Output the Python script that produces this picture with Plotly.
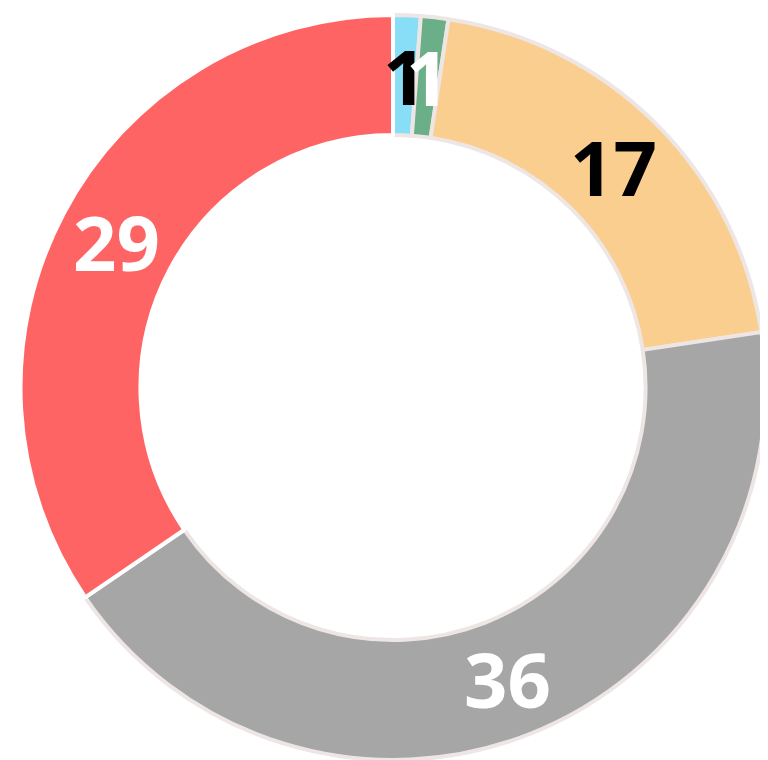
import math
import plotly.graph_objects as go

labels = ["A", "B", "C", "D", "E"]
values = [1, 1, 17, 36, 29]
colors = ["#88DEF6", "#6AAF87", "#FACE8F", "#A6A6A6", "#FF6464"]
text_colors = ["#000000", "#FFFFFF", "#000000", "#FFFFFF", "#FFFFFF"]
line_colors = ["#EEE6E4", "#EEE6E4", "#EEE6E4", "#EEE6E4", "#FFFFFF"]

W, H = 760, 752
ML, MR, MT, MB = 12, 2, 7, 0
HOLE = 0.678

fig = go.Figure(go.Pie(
    labels=labels,
    values=values,
    hole=HOLE,
    sort=False,
    direction="clockwise",
    rotation=0,
    marker=dict(colors=colors, line=dict(color=line_colors, width=4)),
    textinfo="none",
    hoverinfo="label+value",
    showlegend=False,
    domain=dict(x=[0, 1], y=[0, 1]),
))

# value labels placed horizontally at the middle of the ring
pw, ph = W - ML - MR, H - MT - MB
R = min(pw, ph) / 2
rmid = R * (1 + HOLE) / 2
total = sum(values)
cum = 0
for v, tc in zip(values, text_colors):
    a = (cum + v / 2) / total * 2 * math.pi
    cum += v
    fig.add_annotation(
        x=0.5 + rmid * math.sin(a) / pw,
        y=0.5 + rmid * math.cos(a) / ph,
        xref="paper", yref="paper",
        text=str(v), showarrow=False,
        xanchor="center", yanchor="middle",
        font=dict(family="Open Sans", size=76, color=tc, weight="bold"),
    )

fig.update_layout(
    width=W, height=H,
    margin=dict(l=ML, r=MR, t=MT, b=MB),
    paper_bgcolor="white",
)
fig.write_html("out.html")
